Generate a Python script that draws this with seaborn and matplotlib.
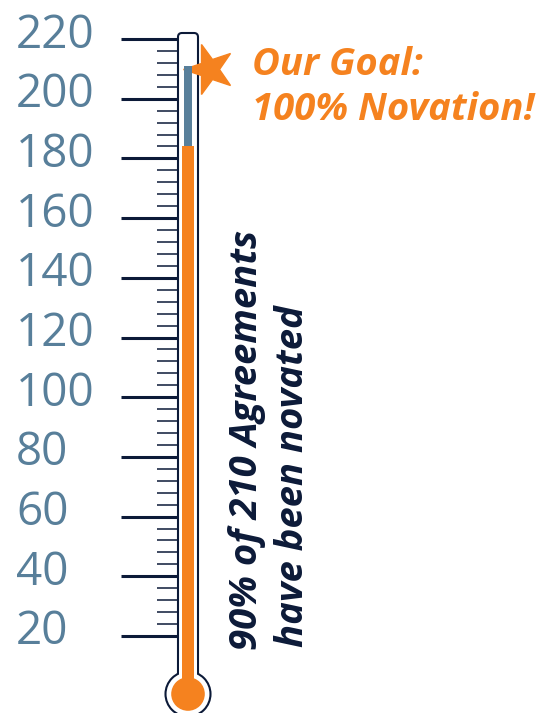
import numpy as np
import pandas as pd
import matplotlib
matplotlib.use("Agg")
import matplotlib.pyplot as plt
import seaborn as sns
from matplotlib.patches import FancyBboxPatch, Circle, Rectangle
from matplotlib.markers import MarkerStyle
from matplotlib.transforms import Affine2D, ScaledTranslation

goal = 211
novated = 184
major_ticks = list(range(20, 221, 20))
minor_ticks = [v for v in range(24, 220, 4) if v % 20 != 0]
tick_labels = [str(v) for v in major_ticks]
goal_text = ["Our Goal:", "100% Novation!"]
side_text = ["90% of 210 Agreements", "have been novated"]

orange = "#f5821f"
blue = "#587f9a"
navy = "#0c1a38"

sns.set_theme(style="white")
plt.rcParams["font.family"] = ["Open Sans", "DejaVu Sans"]

W, H = 552, 713
fig = plt.figure(figsize=(W / 100, H / 100), dpi=100)

# decoration layer in pixel coords
deco = fig.add_axes([0, 0, 1, 1], zorder=0)
deco.set_xlim(0, W)
deco.set_ylim(H, 0)
deco.axis("off")

cx = 188
# tube outline
deco.add_patch(FancyBboxPatch((178, 33), 20, 660, boxstyle="round,pad=0,rounding_size=4",
                              facecolor="white", edgecolor=navy, lw=1.5))
# bulb
deco.add_patch(Circle((cx, 694), 22.5, facecolor="white", edgecolor=navy, lw=1.5))
deco.add_patch(Rectangle((179, 660), 18, 30, facecolor="white", edgecolor="none"))
deco.add_patch(Circle((cx, 694), 16.8, facecolor=orange, edgecolor="none"))

# star
star = MarkerStyle("*", transform=Affine2D().rotate_deg(18))
deco.plot([209], [69], marker=star, markersize=38, color=orange, linestyle="none")

# goal text
fs = 27.5
deco.text(252, 75, goal_text[0], color=orange, fontsize=fs, fontweight="bold",
          fontstyle="italic", ha="left", va="baseline")
deco.text(252, 120, goal_text[1], color=orange, fontsize=fs, fontweight="bold",
          fontstyle="italic", ha="left", va="baseline")

# rotated side text
deco.text(257, 650, side_text[0], color=navy, fontsize=fs, fontweight="bold",
          fontstyle="italic", rotation=90, rotation_mode="anchor", ha="left", va="baseline")
deco.text(303, 647, side_text[1], color=navy, fontsize=fs, fontweight="bold",
          fontstyle="italic", rotation=90, rotation_mode="anchor", ha="left", va="baseline")

# tube axes holding the bars and the scale
ytop = 220 + 39 / 2.985
ybot = 20 - (H - 636) / 2.985
tube = fig.add_axes([178 / W, 0, 20 / W, 1], zorder=1)
tube.patch.set_alpha(0)

df_goal = pd.DataFrame({"item": ["agreements"], "value": [goal]})
df_done = pd.DataFrame({"item": ["agreements"], "value": [novated]})
sns.barplot(data=df_goal, x="item", y="value", width=0.4, color=blue, saturation=1,
            linewidth=0, ax=tube)
sns.barplot(data=df_done, x="item", y="value", width=0.6, color=orange, saturation=1,
            linewidth=0, ax=tube)

tube.set_xlim(-0.5, 0.5)
tube.set_ylim(ybot, ytop)
tube.set_xticks([])
tube.set_xlabel("")
tube.set_ylabel("")
for s in tube.spines.values():
    s.set_visible(False)

tube.set_yticks(major_ticks)
tube.set_yticklabels(tick_labels)
tube.set_yticks(minor_ticks, minor=True)
tube.tick_params(axis="y", which="major", direction="out", length=41, width=2.2,
                 color=navy, pad=75.5, labelsize=33, labelcolor=blue, left=True)
tube.tick_params(axis="y", which="minor", direction="out", length=15, width=1.1,
                 color=navy, left=True)
shift = ScaledTranslation(0, 9 / 100, fig.dpi_scale_trans)
for lab in tube.get_yticklabels():
    lab.set_horizontalalignment("left")
    lab.set_transform(lab.get_transform() + shift)

fig.savefig("out.png", dpi=100)
